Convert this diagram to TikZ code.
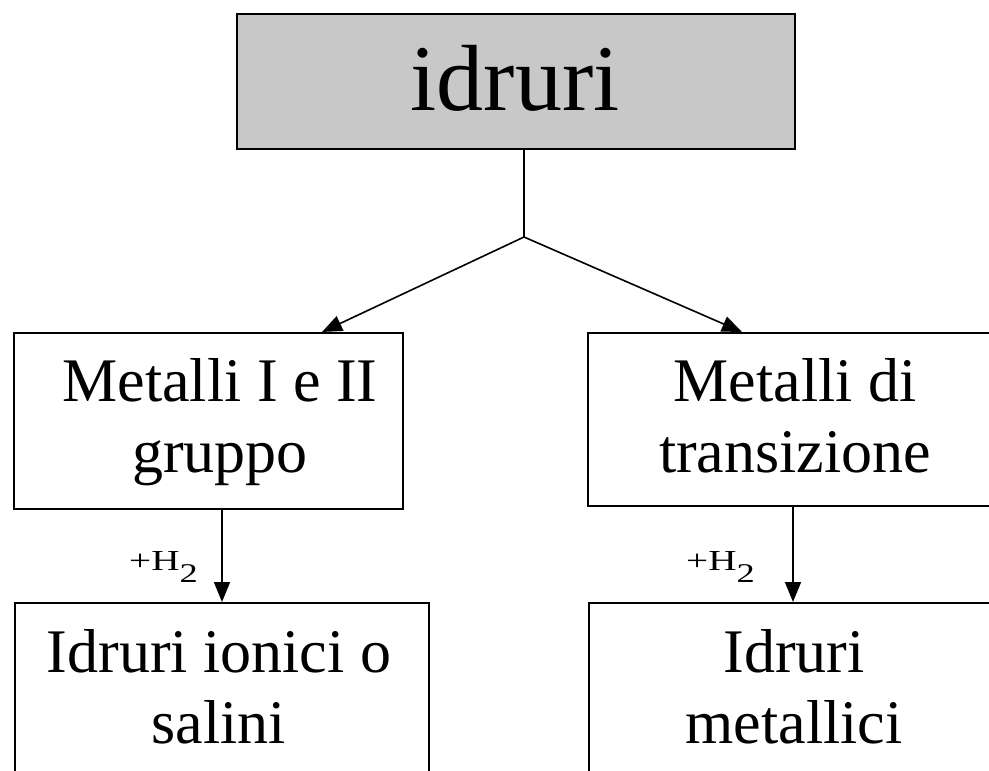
\documentclass[tikz,border=0pt]{standalone}
\usepackage{fontspec}
\setmainfont{Liberation Serif}
\usetikzlibrary{arrows.meta}
\definecolor{boxgray}{RGB}{200,200,200}
\newcommand{\hlabel}{\scalebox{1.35}[1]{+H\raisebox{-12pt}{\fontsize{27pt}{30pt}\selectfont 2}}}
\begin{document}
\begin{tikzpicture}[x=1pt,y=-1pt,
  box/.style={draw, line width=1.8pt, inner sep=0pt, anchor=north west},
  txt/.style={anchor=north, inner sep=0pt, align=center, font=\fontsize{62pt}{71pt}\selectfont},
  conn/.style={line width=1.6pt},
  arr/.style={line width=1.6pt, -{Triangle[length=20pt,width=16pt]}},
  lbl/.style={font=\fontsize{29pt}{34pt}\selectfont, inner sep=0pt, anchor=base west}]
\clip (0,0) rectangle (989,771);
% boxes
\node[box, fill=boxgray, minimum width=558pt, minimum height=135pt] (top) at (236,13) {};
\node[box, minimum width=389pt, minimum height=176pt] (ml) at (13,332) {};
\node[box, minimum width=420pt, minimum height=173pt] (mr) at (587,332) {};
\node[box, minimum width=414pt, minimum height=200pt] (bl) at (14,602) {};
\node[box, minimum width=420pt, minimum height=200pt] (br) at (588,602) {};
% texts
\node[anchor=base, inner sep=0pt, font=\fontsize{94pt}{100pt}\selectfont] (ttop) at (515,110) {idruri};
\node[txt] (tml) at (220,332) {\rule{0pt}{69pt}Metalli I e II\\gruppo};
\node[txt] (tmr) at (795,332) {\rule{0pt}{69pt}Metalli di\\transizione};
\node[txt] (tbl) at (219,602) {\rule{0pt}{70pt}Idruri ionici o\\salini};
\node[txt] (tbr) at (794,602) {\rule{0pt}{70pt}Idruri\\metallici};
% connectors
\coordinate (j) at (524,237);
\coordinate (tl) at (322,332);
\coordinate (tr) at (742,332);
\coordinate (lx) at (222,0);
\coordinate (rx) at (793,0);
\draw[conn] (top.south -| j) -- (j);
\draw[arr] (j) -- (tl);
\draw[arr] (j) -- (tr);
\draw[arr] (ml.south -| lx) -- (bl.north -| lx);
\draw[arr] (mr.south -| rx) -- (br.north -| rx);
% labels
\node[lbl] (h1) at (129,570) {\hlabel};
\node[lbl] (h2) at (686,570) {\hlabel};
\end{tikzpicture}
\end{document}
